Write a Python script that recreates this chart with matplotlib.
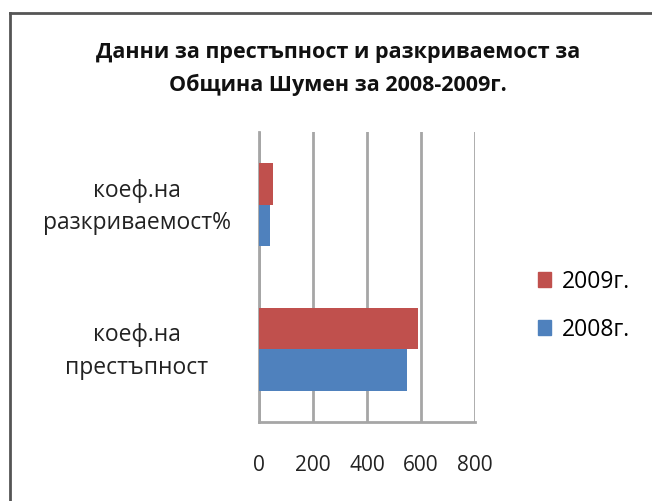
import matplotlib.pyplot as plt
from matplotlib.lines import Line2D
from matplotlib.patches import Patch
from matplotlib.transforms import ScaledTranslation
import numpy as np

plt.rcParams['font.family'] = ['Open Sans', 'DejaVu Sans']

categories = ['коеф.на\nпрестъпност', 'коеф.на\nразкриваемост%']
years = ['2008г.', '2009г.']
values_2008 = [547, 41]
values_2009 = [588, 52]
colors = {'2008г.': '#4F81BD', '2009г.': '#C0504D'}

fig = plt.figure(figsize=(6.52, 5.01), dpi=100)
ax = fig.add_axes([0.397, 0.1577, 0.3315, 0.5788])

y = np.arange(len(categories))
h = 0.283
ax.barh(y - h / 2, values_2008, height=h, color=colors['2008г.'], zorder=3)
ax.barh(y + h / 2, values_2009, height=h, color=colors['2009г.'], zorder=3)

ax.set_xlim(0, 800)
ax.set_ylim(-0.5, 1.5)
ax.set_xticks([0, 200, 400, 600, 800])
ax.set_yticks(y)
ax.set_yticklabels(categories, ha='center', fontsize=16.5, color='#222222',
                   linespacing=1.45)
ax.tick_params(axis='y', length=0, pad=88)
ax.tick_params(axis='x', length=0, pad=24, labelsize=15, colors='#222222')

# nudge category labels up a little
shift = ScaledTranslation(0, 5 / 100, fig.dpi_scale_trans)
for lab in ax.get_yticklabels():
    lab.set_transform(lab.get_transform() + shift)

ax.grid(axis='x', color='#A6A6A6', linewidth=2, zorder=0)
for s in ['top', 'right']:
    ax.spines[s].set_visible(False)
for s in ['left', 'bottom']:
    ax.spines[s].set_color('#A6A6A6')
    ax.spines[s].set_linewidth(2)

fig.text(0.518, 0.862, 'Данни за престъпност и разкриваемост за\nОбщина Шумен за 2008-2009г.',
         ha='center', va='center', fontsize=15.5, fontweight='bold',
         linespacing=1.6, color='#111111')

handles = [Patch(color=colors['2009г.']), Patch(color=colors['2008г.'])]
fig.legend(handles, ['2009г.', '2008г.'], loc='center left',
           bbox_to_anchor=(0.793, 0.39), frameon=False, fontsize=16.5,
           handlelength=0.6, handleheight=0.6, labelspacing=1.05,
           handletextpad=0.45)

# partial outer frame (top and left edges)
fig.add_artist(Line2D([10 / 652, 1], [1 - 13 / 501] * 2, color='#555555', linewidth=2))
fig.add_artist(Line2D([10 / 652] * 2, [0, 1 - 13 / 501], color='#555555', linewidth=2))

fig.savefig('out.png', dpi=100, facecolor='white')
